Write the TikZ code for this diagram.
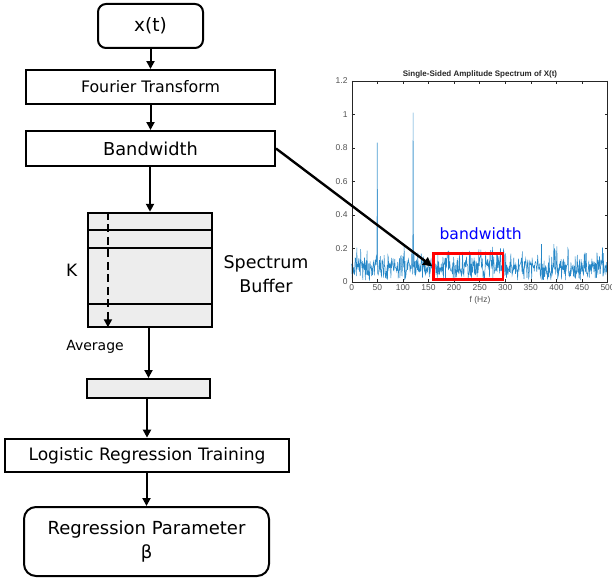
\documentclass[tikz,border=0pt]{standalone}
\usepackage{fontspec}
\setmainfont{DejaVu Sans}
\newfontfamily\plotfont{Liberation Sans}
\usetikzlibrary{arrows.meta,calc}
\definecolor{mlblue}{rgb}{0,0.447,0.741}
\definecolor{boxgray}{gray}{0.93}
\definecolor{axgray}{gray}{0.15}
\begin{document}
\begin{tikzpicture}[x=1pt,y=-1pt,
  fs/.style={font=\fontsize{#1pt}{24pt}\selectfont},
  blk/.style={draw, line width=2pt, inner sep=0pt, align=center},
  flow/.style={line width=2pt, -{Triangle[length=8pt,width=8pt]}},
  ticklbl/.style={font=\plotfont\fontsize{8.5pt}{10pt}\selectfont, text=axgray!80, inner sep=1pt}
]
\useasboundingbox (0,0) rectangle (612,578);

% ---- processing chain ----
\node[blk, rounded corners=8pt, minimum width=105pt, minimum height=44pt, fs=18.5]
  (xt) at (150.5,26) {x(t)};
\node[blk, minimum width=249pt, minimum height=34pt, fs=15.8]
  (ft) at (150.5,87) {Fourier Transform};
\node[blk, minimum width=249pt, minimum height=35pt, fs=17.8]
  (bw) at (150.5,148.5) {Bandwidth};
\node[blk, fill=boxgray, minimum width=123.5pt, minimum height=114.5pt]
  (buf) at (150,270) {};
\node[blk, fill=boxgray, minimum width=123pt, minimum height=19pt]
  (avg) at (148.5,388.5) {};
\node[blk, minimum width=283.7pt, minimum height=33.3pt, fs=17.1]
  (lrt) at (147,455.3) {Logistic Regression Training};
\node[blk, rounded corners=12pt, minimum width=245pt, minimum height=69pt, fs=18]
  (rp) at (146.5,541.5) {Regression Parameter\\β};

% rows of the spectrum buffer
\foreach \d in {18,36.3,92.3}
  \draw[line width=2pt] ([yshift=-\d pt]buf.north west) -- ([yshift=-\d pt]buf.north east);
% averaging direction
\draw[line width=2.6pt, dash pattern=on 8pt off 4.5pt, -{Triangle[length=8pt,width=8pt]}]
  ([xshift=20.7pt]buf.north west) -- ([xshift=20.7pt,yshift=1pt]buf.south west);

\node[fs=17] (k) at (71.7,270) {K};
\node[fs=17.5, align=center] (sb) at (266,274) {Spectrum\\Buffer};
\node[fs=14] (av) at (95,347) {Average};

% connectors
\draw[flow] (xt.south) -- (ft.north);
\draw[flow] (ft.south) -- (bw.north);
\draw[flow] (buf.north |- bw.south) -- (buf.north);
\draw[flow] (avg.north |- buf.south) -- (avg.north);
\draw[flow] (lrt.north |- avg.south) -- (lrt.north);
\draw[flow] (rp.north |- lrt.south) -- (rp.north);

% ---- amplitude spectrum plot ----
\node[font=\plotfont\bfseries\fontsize{8pt}{9pt}\selectfont, text=axgray] (title) at (480,74)
  {Single-Sided Amplitude Spectrum of X(t)};
\node[ticklbl] (xlab) at (480,300.7) {f (Hz)};

\begin{scope}[shift={(351.7pt,-281.7pt)}, x=0.5118pt, y=167.5pt]
  \pgfmathsetseed{42}
  \draw[mlblue!85, line width=0.5pt] plot[domain=0:500, samples=601]
    (\x, {max(0.01,min(0.225, 0.072*sqrt(-2*ln(0.001+0.999*rnd))))});
  \draw[mlblue!70, line width=0.6pt] (49.2,0.1) -- (50,0.83) -- (50.8,0.09);
  \draw[mlblue!70, line width=0.6pt] (119.2,0.08) -- (120,1.01) -- (120.8,0.1);
  \draw[axgray, line width=0.4pt] (0,0) rectangle (500,1.2);
  \foreach \v in {0,50,...,500} {
    \draw[axgray, line width=0.4pt] (\v,0) -- ++(0pt,3pt);
    \draw[axgray, line width=0.4pt] (\v,1.2) -- ++(0pt,-3pt);
    \node[ticklbl, anchor=north] at ([yshift=-2pt]\v,0) {\v};
  }
  \foreach \a/\t in {0/0,0.2/0.2,0.4/0.4,0.6/0.6,0.8/0.8,1/1,1.2/1.2} {
    \draw[axgray, line width=0.4pt] (0,\a) -- ++(3pt,0pt);
    \draw[axgray, line width=0.4pt] (500,\a) -- ++(-3pt,0pt);
    \node[ticklbl, anchor=east] at ([xshift=-3pt]0,\a) {\t};
  }
\end{scope}

% band of interest
\node[draw=red, line width=2.4pt, minimum width=69.4pt, minimum height=26pt, inner sep=0pt]
  (band) at (468,266.3) {};
\node[fs=15.6, text=blue] (bandlbl) at (480.7,234) {bandwidth};
\draw[line width=2.4pt, -{Triangle[length=9pt,width=9pt]}] (bw.east) -- (band.west);
\end{tikzpicture}
\end{document}
